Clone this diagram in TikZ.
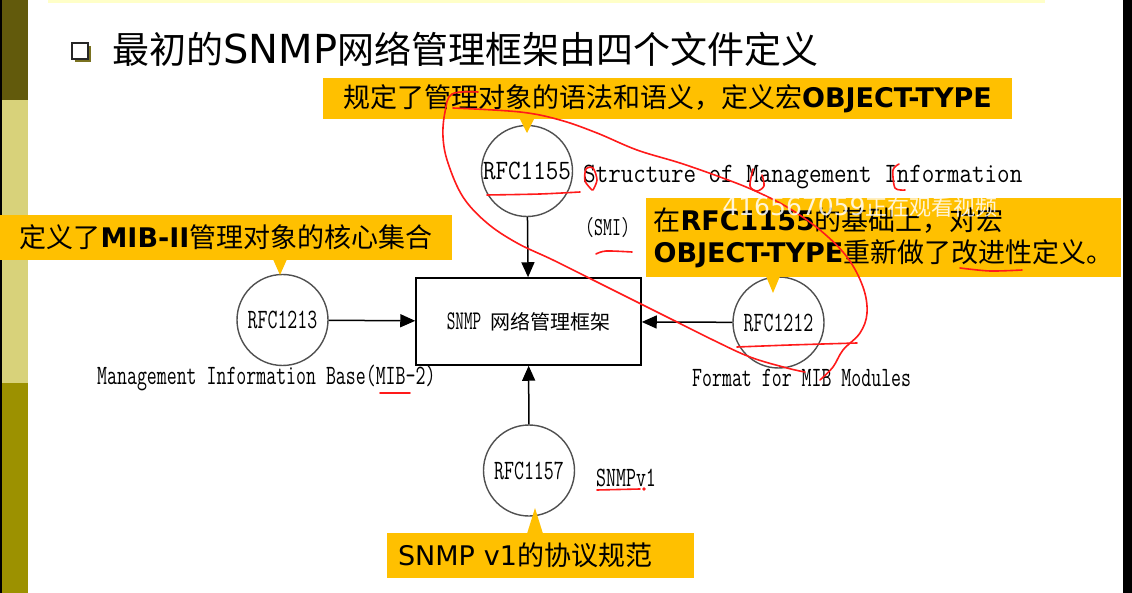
\documentclass[tikz,border=0pt]{standalone}
\usepackage{fontspec}
\setmainfont{DejaVu Sans}
\newfontfamily\cjk{Noto Sans CJK SC}
\usetikzlibrary{arrows.meta, positioning}
\definecolor{calloutyellow}{HTML}{FFC000}
\definecolor{bardark}{HTML}{625A0C}
\definecolor{barlight}{HTML}{D8D27A}
\definecolor{barolive}{HTML}{9C9100}
\definecolor{topline}{HTML}{FFFFC8}
\definecolor{penred}{HTML}{FF1A1A}
\definecolor{ringgray}{HTML}{505050}
\definecolor{bulletshade}{HTML}{7A7220}
\newcommand{\rfclabel}[2][0.69]{\scalebox{#1}[1]{\ttfamily #2}}

\begin{document}
\begin{tikzpicture}[x=1pt, y=-1pt,
    callout/.style={fill=calloutyellow, inner ysep=0pt, align=left,
                    font=\fontsize{27}{32}\selectfont},
    rfc/.style={circle, draw=ringgray, line width=1.4pt, minimum size=91pt,
                inner sep=0pt, font=\fontsize{28}{28}\selectfont},
    frame/.style={draw=black, line width=1.5pt, minimum width=225pt,
                  minimum height=87pt, inner sep=0pt},
    desc/.style={inner sep=0pt, anchor=west, font=\fontsize{28}{28}\selectfont},
    arr/.style={-{Triangle[length=15pt,width=13pt]}, line width=1.5pt},
    redpen/.style={draw=penred, line width=1.6pt, line cap=round, line join=round},
    wmark/.style={text=white, text opacity=0.85, inner sep=0pt}]
    \useasboundingbox (0,0) rectangle (1132,593);
    % slide background
    \fill[white] (0,0) rectangle (1132,593);
    \fill[black] (0,0) rectangle (1.5,593);
    \fill[bardark] (1.5,0) rectangle (28,100);
    \fill[barlight] (1.5,100) rectangle (28,383);
    \fill[barolive] (1.5,383) rectangle (28,593);
    \fill[topline] (48,0) rectangle (1045,3);
    \fill[black] (1123,0) rectangle (1132,593);
    % title
    \fill[bulletshade] (75,46) rectangle (91,62);
    \filldraw[fill=white, draw=black!85, line width=1.5pt] (72,43) rectangle (88,59);
    \node[inner sep=0pt, anchor=west, font=\fontsize{37}{37}\selectfont] (title) at (112,49)
        {{\cjk 最初的}{\fontsize{40}{40}\selectfont SNMP}{\cjk 网络管理框架由四个文件定义}};
    % documents and framework
    \node[frame] (snmpbox) at (528.5,321.5)
        {\raisebox{-8pt}{\fontsize{27}{27}\selectfont\rfclabel[0.62]{SNMP}\hspace{9pt}{\fontsize{20}{20}\selectfont\cjk 网络管理框架}}};
    \node[rfc] (rfc1155) at (527,171) {\raisebox{-6pt}{\rfclabel[0.87]{RFC1155}}};
    \node[rfc] (rfc1213) at (282.5,320) {\raisebox{-7pt}{\rfclabel{RFC1213}}};
    \node[rfc] (rfc1212) at (778.5,322.5) {\raisebox{-6pt}{\rfclabel{RFC1212}}};
    \node[rfc] (rfc1157) at (529,470.5) {\raisebox{-6pt}{\rfclabel{RFC1157}}};
    \node[desc] (smidesc) at (583,177) {\rfclabel[0.87]{Structure of Management Information}};
    \node[desc, font=\fontsize{26}{26}\selectfont] (smi) at (585,228) {\rfclabel[0.67]{(SMI)}};
    \node[desc] (mibdesc) at (97,378) {\rfclabel{Management Information Base(MIB-2)}};
    \node[desc] (fmtdesc) at (692,378) {\rfclabel{Format for MIB Modules}};
    \node[desc] (v1desc) at (596,478) {\rfclabel{SNMPv1}};
    \draw[arr] (rfc1155) -- (snmpbox);
    \draw[arr] (rfc1213) -- (snmpbox);
    \draw[arr] (rfc1212) -- (snmpbox);
    \draw[arr] (rfc1157) -- (snmpbox);
    % callouts
    \node[callout, minimum width=689pt, minimum height=41pt, inner xsep=15pt]
        (callsmi) at (667.5,98.5) {{\cjk 规定了管理对象的语法和语义，定义宏}\textbf{OBJECT-TYPE}};
    \node[callout, minimum width=452pt, minimum height=45pt, inner xsep=13pt]
        (callmib) at (226,237.5) {{\cjk 定义了}\textbf{MIB-II}{\cjk 管理对象的核心集合}};
    \node[callout, minimum width=467pt, minimum height=79pt, inner xsep=8pt]
        (callfmt) at (883.5,237.5) {{\cjk 在}\textbf{RFC1155}{\cjk 的基础上，对宏}\\
        \textbf{OBJECT-TYPE}{\cjk 重新做了改进性定义。}};
    \node[callout, minimum width=307pt, minimum height=45pt, inner xsep=11pt, text width=285pt]
        (callv1) at (540.5,555.5) {SNMP v1{\cjk 的协议规范}};
    \coordinate (tipsmi) at (527,133);
    \coordinate (tipmib) at (280,275);
    \coordinate (tipfmt) at (773,293);
    \coordinate (tipv1) at (535,508);
    \fill[calloutyellow] ([xshift=-7.5pt,yshift=1pt]tipsmi |- callsmi.south)
        -- ([xshift=7.5pt,yshift=1pt]tipsmi |- callsmi.south) -- (tipsmi) -- cycle;
    \fill[calloutyellow] ([xshift=-7pt,yshift=1pt]tipmib |- callmib.south)
        -- ([xshift=7pt,yshift=1pt]tipmib |- callmib.south) -- (tipmib) -- cycle;
    \fill[calloutyellow] ([xshift=-7pt,yshift=1pt]tipfmt |- callfmt.south)
        -- ([xshift=7pt,yshift=1pt]tipfmt |- callfmt.south) -- (tipfmt) -- cycle;
    \fill[calloutyellow] ([xshift=-8pt,yshift=-1pt]tipv1 |- callv1.north)
        -- ([xshift=8pt,yshift=-1pt]tipv1 |- callv1.north) -- (tipv1) -- cycle;
    % red pen marks
    \draw[redpen] plot[smooth, tension=0.6] coordinates {(478,92) (452,94) (445,112)
        (443,137) (448,163) (463,197) (487,223) (517,243) (553,260) (593,280)
        (633,300) (673,320) (713,340) (750,357) (787,368) (805,372)};
    \draw[redpen] plot[smooth, tension=0.6] coordinates {(453,108) (520,112) (560,120)
        (597,133) (637,150) (680,163) (720,177) (753,190) (787,207) (820,230)
        (847,257) (863,287) (867,313) (860,333) (843,350) (833,367) (820,380)};
    \draw[redpen] plot[smooth] coordinates {(737,347) (790,345) (857,343)};
    \draw[redpen] plot[smooth] coordinates {(487,195) (540,194) (580,192)};
    \draw[redpen] plot[smooth] coordinates {(592,190) (585,181) (586,169) (593,168) (597,180) (593,190)};
    \draw[redpen] plot[smooth] coordinates {(753,169) (750,186) (757,191) (764,186) (762,175)};
    \draw[redpen] plot[smooth] coordinates {(899,164) (893,170) (895,188) (905,190)};
    \draw[redpen] plot[smooth] coordinates {(596,254) (606,251) (632,252)};
    \draw[redpen] plot[smooth] coordinates {(380,393) (410,393)};
    \draw[redpen] plot[smooth] coordinates {(597,490) (640,489)};
    \fill[penred] (644,489) circle (1.8);
    \draw[redpen] plot[smooth] coordinates {(960,268) (990,271) (1022,270)};
    % watermark
    \node[wmark] (viewer) at (860,207)
        {{\fontsize{25}{25}\selectfont 416567059}{\fontsize{22}{22}\selectfont\cjk 正在观看视频}};
\end{tikzpicture}
\end{document}
